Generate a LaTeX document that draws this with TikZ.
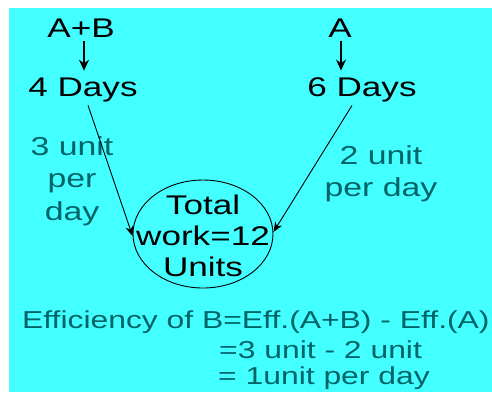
\documentclass[tikz,border=0pt]{standalone}
\usepackage{fontspec}
\setmainfont[FakeStretch=1.3]{Liberation Sans}
\usetikzlibrary{shapes.geometric,arrows.meta}
\definecolor{bgcyan}{RGB}{68,255,255}
\definecolor{tealtext}{RGB}{0,100,104}

\begin{document}
\begin{tikzpicture}[x=1pt,y=-1pt,
  lbl/.style={inner sep=0pt,font=\fontsize{27}{31}\selectfont},
  rate/.style={inner sep=0pt,align=center,text=tealtext,font=\fontsize{26}{32.5}\selectfont},
  effline/.style={inner sep=0pt,anchor=west,text=tealtext,font=\fontsize{24.5}{28}\selectfont},
  arr/.style={-{Stealth[length=11pt,width=10pt]},line width=1.3pt},
  slant/.style={-{Stealth[length=10pt,width=8pt]},line width=0.9pt}]
\useasboundingbox (0,0) rectangle (492,392);
\fill[white] (0,0) rectangle (492,392);
\fill[bgcyan] (9,8) rectangle (492,392);
\node[lbl] (ab) at (81,28) {A+B};
\node[lbl] (days4) at (83,90) {4 Days};
\node[lbl] (a) at (340,28) {A};
\node[lbl] (days6) at (362,90) {6 Days};
\node[draw,ellipse,line width=0.9pt,minimum width=140pt,minimum height=108pt,
  inner sep=0pt] (total) at (203,234) {};
\node[lbl,align=center] (totaltext) at (203,236) {Total\\work=12\\Units};
\node[rate] (rate3) at (72,181) {3 unit\\per\\day};
\node[rate] (rate2) at (381,174) {2 unit\\per day};
\draw[arr,shorten <=4pt,shorten >=7pt] ([xshift=3pt]ab.south) -- ([xshift=1pt]days4.north);
\draw[arr,shorten <=4pt,shorten >=7pt] ([xshift=1pt]a.south) -- ([xshift=-21pt]days6.north);
\draw[slant] ([xshift=5pt,yshift=-3pt]days4.south) -- ([yshift=-2pt]total.west);
\draw[slant] ([xshift=-10pt,yshift=-3pt]days6.south) -- ([yshift=2pt]total.east);
\node[effline] (eff) at (22,322) {Efficiency of B=Eff.(A+B) - Eff.(A)};
\node[effline] (diff) at (219,350) {=3 unit - 2 unit};
\node[effline] (res) at (218,378) {= 1unit per day};
\end{tikzpicture}
\end{document}
